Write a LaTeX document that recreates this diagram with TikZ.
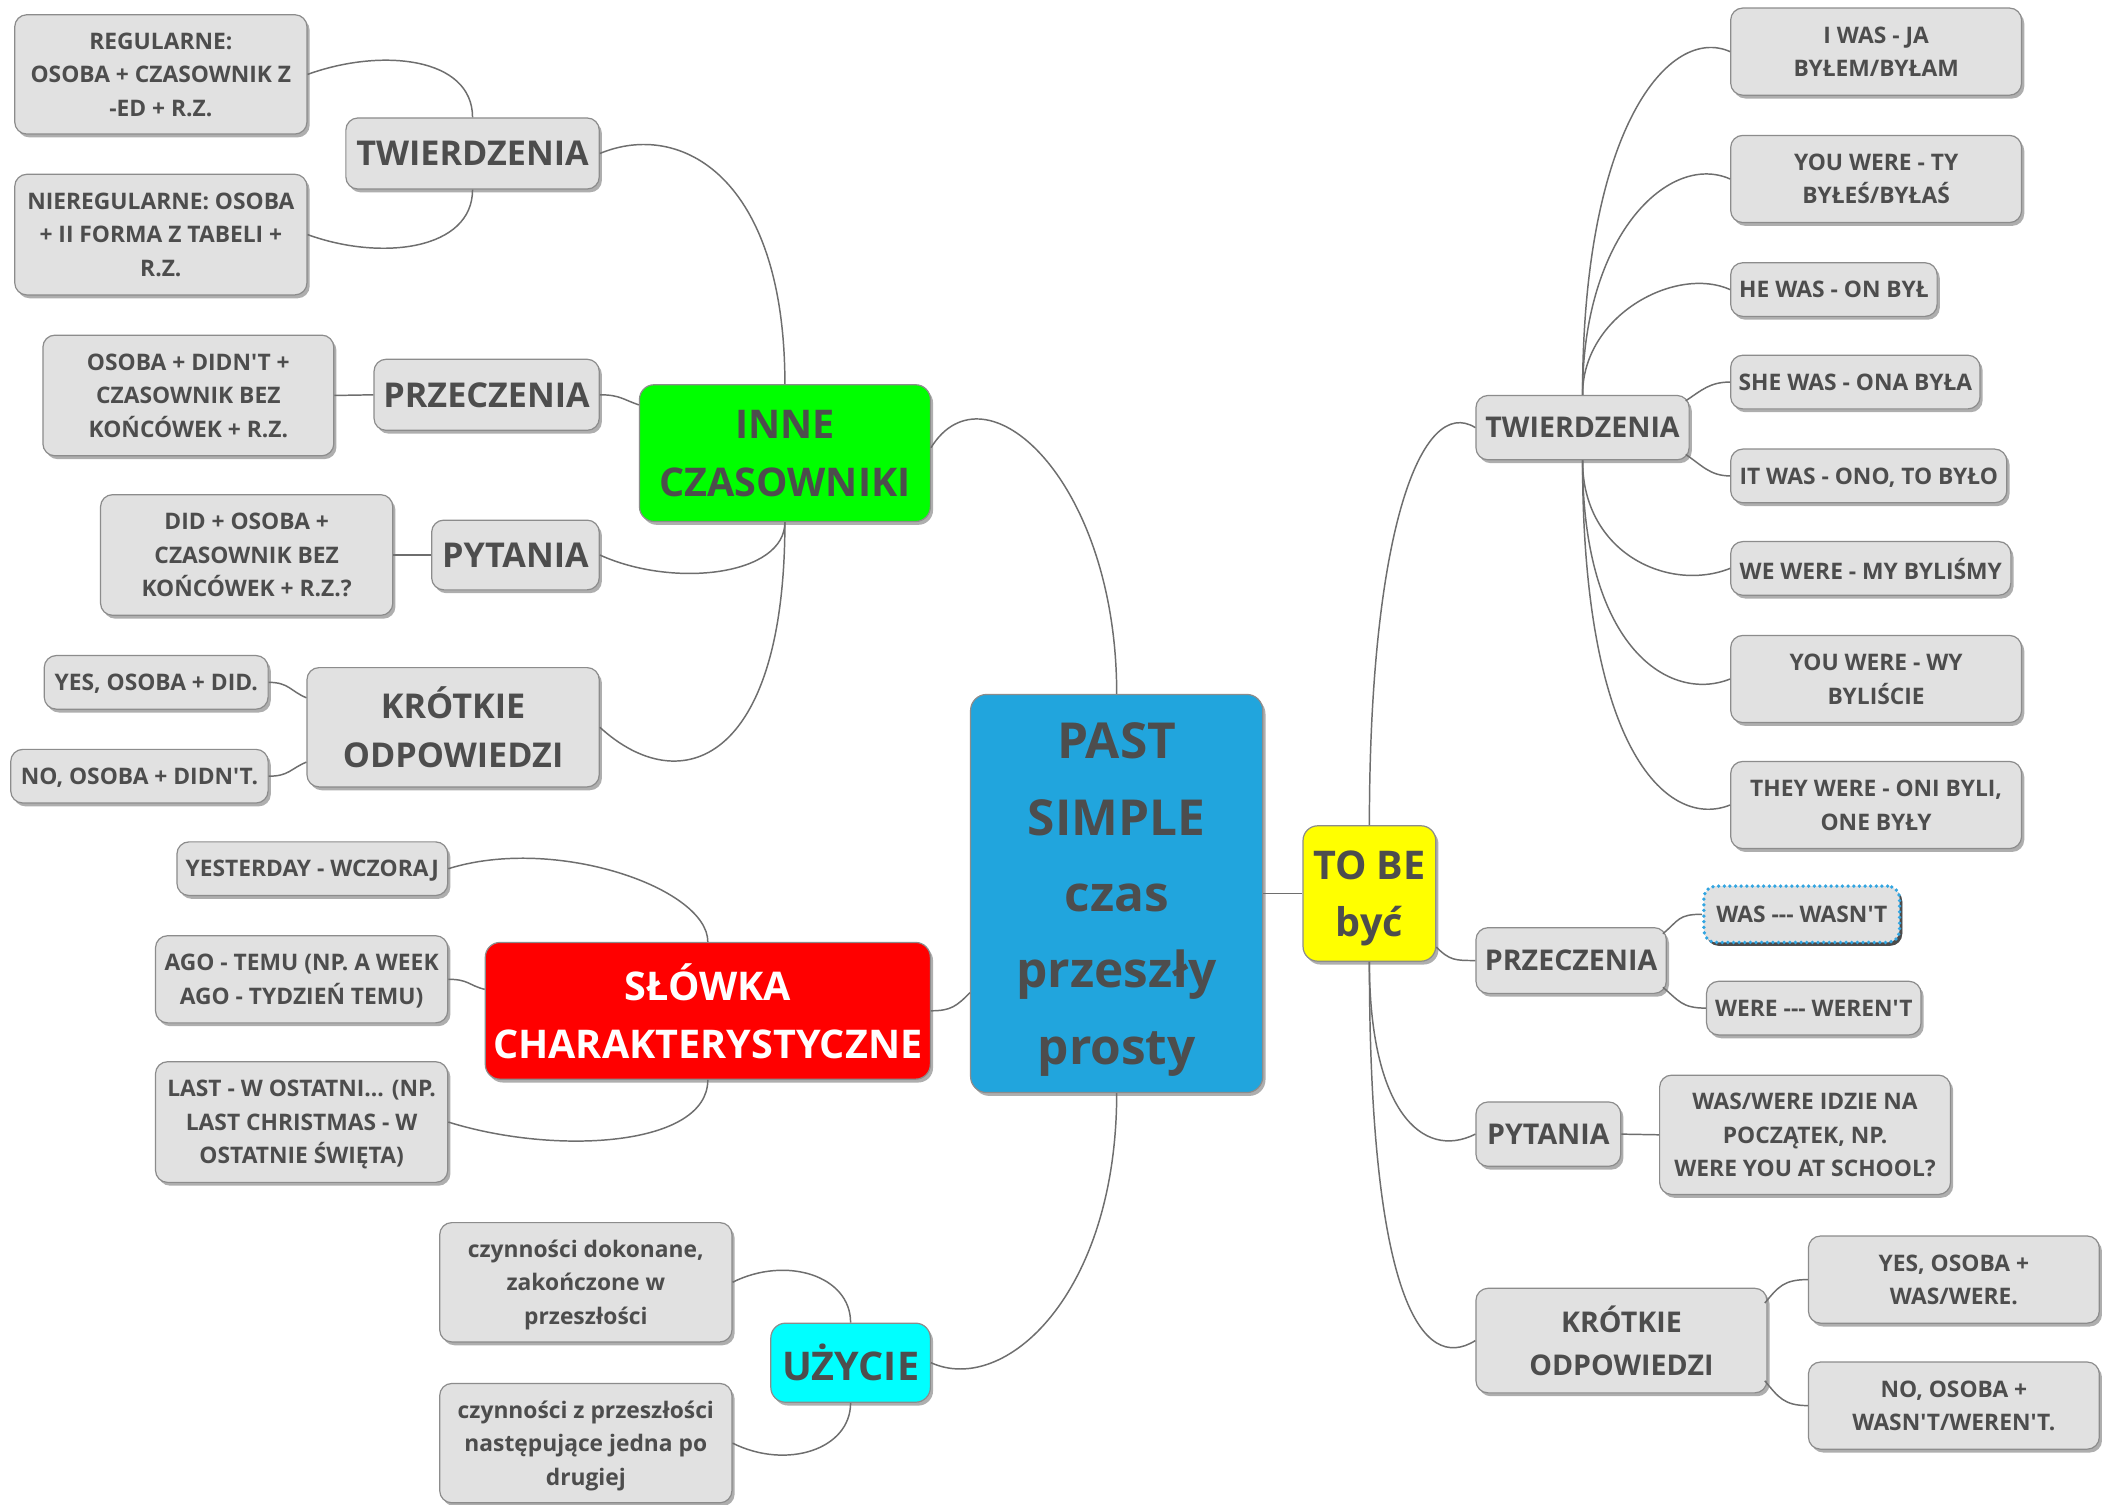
\documentclass[tikz,border=0pt]{standalone}
\usepackage{fontspec}
\setmainfont{Open Sans}[Ligatures=TeXOff]
\usetikzlibrary{shadows,calc}
\definecolor{txt}{RGB}{77,77,77}
\definecolor{boxfill}{RGB}{225,225,225}
\definecolor{boxline}{RGB}{140,140,140}
\definecolor{conn}{RGB}{110,110,110}
\definecolor{cblue}{RGB}{33,165,221}
\definecolor{cgreen}{RGB}{0,255,0}
\definecolor{cred}{RGB}{255,0,0}
\definecolor{ccyan}{RGB}{0,255,255}
\definecolor{cyellow}{RGB}{255,255,0}
\definecolor{dotblue}{RGB}{50,165,225}
\tikzset{
 base/.style={draw=boxline, line width=0.9pt, rounded corners=9pt, inner sep=0pt, align=center, text=txt,
   text depth=0pt,
   drop shadow={shadow xshift=2pt, shadow yshift=-2.5pt, opacity=0.45, fill=black!70}},
 leaf/.style={base, fill=boxfill, font=\fontsize{17}{25}\selectfont\bfseries},
 subl/.style={base, fill=boxfill, font=\fontsize{25.5}{37}\selectfont\bfseries},
 subr/.style={base, fill=boxfill, font=\fontsize{21.3}{32}\selectfont\bfseries},
 mainb/.style={base, font=\fontsize{29.5}{43}\selectfont\bfseries, rounded corners=11pt},
 centre/.style={base, fill=cblue, font=\fontsize{37}{57}\selectfont\bfseries, rounded corners=12pt},
 sz/.style 2 args={minimum width=#1pt, minimum height=#2pt},
 link/.style={draw=conn, line width=1.1pt},
}
\begin{document}
\begin{tikzpicture}[x=1pt,y=-1pt]
\fill[white] (0,0) rectangle (1568,1122);
\useasboundingbox (0,0) rectangle (1568,1122);

% centre and main branches
\node[centre, sz={218}{297}] (past) at (833,666.5) {PAST\\SIMPLE\\czas\\przeszły\\prosty};
\node[mainb, fill=cgreen, sz={217}{102}] (inne) at (585.5,338) {INNE\\CZASOWNIKI};
\node[mainb, fill=cred, text=white, sz={332}{102}] (slowka) at (528,754) {SŁÓWKA\\CHARAKTERYSTYCZNE};
\node[mainb, fill=ccyan, sz={119}{59}] (uzycie) at (634.5,1016.5) {UŻYCIE};
\node[mainb, fill=cyellow, sz={99}{101}] (tobe) at (1021.5,666.5) {TO BE\\być};

% left second level
\node[subl, sz={189}{53}] (tw1) at (352.5,114.5) {TWIERDZENIA};
\node[subl, sz={168}{53}] (prz1) at (363,294.5) {PRZECZENIA};
\node[subl, sz={125}{52}] (pyt1) at (384.5,414) {PYTANIA};
\node[subl, sz={218}{89}] (kr1) at (338,542.5) {KRÓTKIE\\ODPOWIEDZI};

% left leaves
\node[leaf, sz={218}{89}] (reg) at (120,55.5) {REGULARNE:\\OSOBA + CZASOWNIK Z\\-ED + R.Z.};
\node[leaf, sz={218}{90}] (nreg) at (120,175) {NIEREGULARNE: OSOBA\\+ II FORMA Z TABELI +\\R.Z.};
\node[leaf, sz={217}{90}] (osd) at (140.5,295) {OSOBA + DIDN'T +\\CZASOWNIK BEZ\\KOŃCÓWEK + R.Z.};
\node[leaf, sz={218}{90}] (did) at (184,414) {DID + OSOBA +\\CZASOWNIK BEZ\\KOŃCÓWEK + R.Z.?};
\node[leaf, sz={167}{40}] (yes1) at (116.5,509) {YES, OSOBA + DID.};
\node[leaf, sz={192}{40}] (no1) at (104,579) {NO, OSOBA + DIDN'T.};
\node[leaf, sz={202}{40}] (yest) at (233,648) {YESTERDAY - WCZORAJ};
\node[leaf, sz={218}{65}] (ago) at (225,730.5) {AGO - TEMU (NP. A WEEK\\AGO - TYDZIEŃ TEMU)};
\node[leaf, sz={218}{90}] (last) at (225,837) {LAST - W OSTATNI... (NP.\\LAST CHRISTMAS - W\\OSTATNIE ŚWIĘTA)};
\node[leaf, sz={218}{89}] (cd) at (437,956.5) {czynności dokonane,\\zakończone w\\przeszłości};
\node[leaf, sz={218}{89}] (cz) at (437,1076.5) {czynności z przeszłości\\następujące jedna po\\drugiej};

% right second level
\node[subr, sz={159}{48}] (tw2) at (1180.5,319) {TWIERDZENIA};
\node[subr, sz={142}{49}] (prz2) at (1172,716.5) {PRZECZENIA};
\node[subr, sz={108}{48}] (pyt2) at (1155,846) {PYTANIA};
\node[subr, sz={217}{78}] (kr2) at (1209.5,1000) {KRÓTKIE\\ODPOWIEDZI};

% right leaves
\node[leaf, sz={217}{65}] (iwas) at (1399.5,38.5) {I WAS - JA\\BYŁEM/BYŁAM};
\node[leaf, sz={217}{65}] (youty) at (1399.5,133.5) {YOU WERE - TY\\BYŁEŚ/BYŁAŚ};
\node[leaf, sz={154}{40}] (hewas) at (1368,216) {HE WAS - ON BYŁ};
\node[leaf, sz={186}{40}] (shewas) at (1384,285) {SHE WAS - ONA BYŁA};
\node[leaf, sz={206}{40}] (itwas) at (1394,355) {IT WAS - ONO, TO BYŁO};
\node[leaf, sz={209}{40}] (wewere) at (1395.5,424) {WE WERE - MY BYLIŚMY};
\node[leaf, sz={217}{65}] (youwy) at (1399.5,506.5) {YOU WERE - WY\\BYLIŚCIE};
\node[leaf, sz={217}{65}] (they) at (1399.5,600.5) {THEY WERE - ONI BYLI,\\ONE BYŁY};
\node[leaf, sz={146}{42}, draw=dotblue, line width=2.8pt, dash pattern=on 0pt off 4.2pt, line cap=round,
  drop shadow={shadow xshift=2pt, shadow yshift=-2.5pt, opacity=0.8, fill=black!80}] (was) at (1344,682) {WAS --- WASN'T};
\node[leaf, sz={160}{40}] (were) at (1353,752) {WERE --- WEREN'T};
\node[leaf, sz={217}{89}] (ww) at (1346.5,846.5) {WAS/WERE IDZIE NA\\POCZĄTEK, NP.\\WERE YOU AT SCHOOL?};
\node[leaf, sz={217}{65}] (yes2) at (1457.5,954.5) {YES, OSOBA +\\WAS/WERE.};
\node[leaf, sz={217}{65}] (no2) at (1457.5,1048.5) {NO, OSOBA +\\WASN'T/WEREN'T.};

% connectors from centre
\draw[link] (past.north) .. controls +(0,-160) and +(40,-65) .. ($(inne.east)+(0,-4)$);
\draw[link] (slowka.east) .. controls +(15,0) and +(-10,10) .. ($(past.west)+(0,74)$);
\draw[link] (past.south) .. controls +(0,150) and +(55,25) .. (uzycie.east);
\draw[link] (past.east) -- (tobe.west);

% INNE CZASOWNIKI
\draw[link] (inne.north) .. controls +(0,-155) and +(60,-25) .. (tw1.east);
\draw[link] (prz1.east) .. controls +(15,0) and +(-12,-4) .. ($(inne.west)+(0,-36)$);
\draw[link] (inne.south) .. controls +(0,40) and +(55,25) .. (pyt1.east);
\draw[link] (inne.south) .. controls +(0,180) and +(60,55) .. (kr1.east);
\draw[link] (tw1.north) .. controls +(0,-45) and +(55,-20) .. (reg.east);
\draw[link] (tw1.south) .. controls +(0,45) and +(55,20) .. (nreg.east);
\draw[link] (prz1.west) -- (osd.east);
\draw[link] (pyt1.west) -- (did.east);
\draw[link] (yes1.east) .. controls +(15,0) and +(-12,-5) .. ($(kr1.west)+(0,-22)$);
\draw[link] (no1.east) .. controls +(15,0) and +(-12,5) .. ($(kr1.west)+(0,26)$);

% SLOWKA
\draw[link] (slowka.north) .. controls +(0,-40) and +(80,-25) .. (yest.east);
\draw[link] (ago.east) .. controls +(15,0) and +(-12,-3) .. ($(slowka.west)+(0,-16)$);
\draw[link] (slowka.south) .. controls +(0,50) and +(80,25) .. (last.east);

% UZYCIE
\draw[link] (uzycie.north) .. controls +(0,-35) and +(40,-20) .. (cd.east);
\draw[link] (uzycie.south) .. controls +(0,35) and +(40,20) .. (cz.east);

% TO BE
\draw[link] (tobe.north) .. controls +(0,-220) and +(-40,-25) .. (tw2.west);
\draw[link] ($(tobe.east)+(0,40)$) .. controls +(10,10) and +(-15,0) .. (prz2.west);
\draw[link] (tobe.south) .. controls +(0,110) and +(-40,20) .. (pyt2.west);
\draw[link] (tobe.south) .. controls +(0,250) and +(-40,25) .. (kr2.west);

% TWIERDZENIA right
\draw[link] (tw2.north) .. controls +(0,-200) and +(-45,-20) .. (iwas.west);
\draw[link] (tw2.north) .. controls +(0,-120) and +(-45,-20) .. (youty.west);
\draw[link] (tw2.north) .. controls +(0,-60) and +(-40,-18) .. (hewas.west);
\draw[link] ($(tw2.east)+(-3,-20)$) .. controls +(12,-8) and +(-15,0) .. (shewas.west);
\draw[link] ($(tw2.east)+(-3,20)$) .. controls +(12,8) and +(-15,0) .. (itwas.west);
\draw[link] (tw2.south) .. controls +(0,70) and +(-45,18) .. (wewere.west);
\draw[link] (tw2.south) .. controls +(0,140) and +(-45,18) .. (youwy.west);
\draw[link] (tw2.south) .. controls +(0,220) and +(-45,18) .. (they.west);

% PRZECZENIA, PYTANIA, KROTKIE right
\draw[link] ($(prz2.east)+(-3,-20)$) .. controls +(12,-10) and +(-18,0) .. (was.west);
\draw[link] ($(prz2.east)+(-3,20)$) .. controls +(12,10) and +(-18,0) .. (were.west);
\draw[link] (pyt2.east) -- (ww.west);
\draw[link] ($(kr2.east)+(-2,-28)$) .. controls +(10,-12) and +(-18,0) .. (yes2.west);
\draw[link] ($(kr2.east)+(-2,30)$) .. controls +(10,12) and +(-18,0) .. (no2.west);
\end{tikzpicture}
\end{document}
